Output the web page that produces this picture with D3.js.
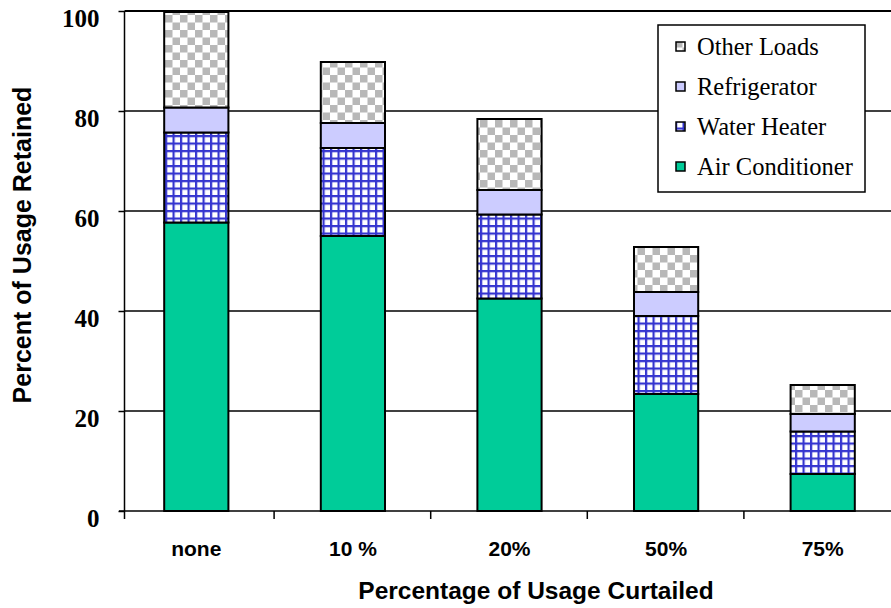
<!DOCTYPE html>
<html>
<head>
<meta charset="utf-8">
<script src="https://cdn.jsdelivr.net/npm/d3@7"></script>
<style>
  html, body { margin: 0; padding: 0; background: #fff; }
  svg { display: block; }
</style>
</head>
<body>
<svg id="chart" width="891" height="608"></svg>
<script>
// Curtailment scenarios and the retained usage of each end use (percent)
const categories = ["none", "10 %", "20%", "50%", "75%"];
const airConditioner = [57.7, 55.0, 42.5, 23.4, 7.4];
const waterHeater    = [18.0, 17.6, 16.8, 15.6, 8.5];
const refrigerator   = [5.0, 5.0, 4.9, 4.8, 3.5];
const otherLoads     = [19.1, 12.2, 14.2, 9.0, 5.8];
const seriesNames = ["Air Conditioner", "Water Heater", "Refrigerator", "Other Loads"];
const yTicks = [0, 20, 40, 60, 80, 100];

const svg = d3.select("#chart");
const defs = svg.append("defs");

// Grey checkerboard for "Other Loads"
const chk = defs.append("pattern").attr("id", "pat-other")
  .attr("patternUnits", "userSpaceOnUse").attr("width", 15).attr("height", 15);
chk.append("rect").attr("width", 15).attr("height", 15).attr("fill", "#ffffff");
chk.append("rect").attr("width", 7.5).attr("height", 7.5).attr("fill", "#b8b8b8");
chk.append("rect").attr("x", 7.5).attr("y", 7.5).attr("width", 7.5).attr("height", 7.5).attr("fill", "#b8b8b8");

// Blue grid for "Water Heater"
const grid = defs.append("pattern").attr("id", "pat-water")
  .attr("patternUnits", "userSpaceOnUse").attr("width", 7.5).attr("height", 7.5);
grid.append("rect").attr("width", 7.5).attr("height", 7.5).attr("fill", "#ffffff");
grid.append("rect").attr("width", 2.2).attr("height", 7.5).attr("fill", "#3535cf");
grid.append("rect").attr("width", 7.5).attr("height", 2.2).attr("fill", "#3535cf");

const fills = {
  "Air Conditioner": "#00cc99",
  "Water Heater": "url(#pat-water)",
  "Refrigerator": "#ccccff",
  "Other Loads": "url(#pat-other)"
};

const axisX = 124.5;
const x = d3.scaleBand().domain(categories).range([118, 901])
  .paddingInner(0.59).paddingOuter(0.295);
const y = d3.scaleLinear().domain([0, 100]).range([511, 11]);

const rows = categories.map((c, i) => ({
  category: c,
  "Air Conditioner": airConditioner[i],
  "Water Heater": waterHeater[i],
  "Refrigerator": refrigerator[i],
  "Other Loads": otherLoads[i]
}));
const stacked = d3.stack().keys(seriesNames)(rows);

// Horizontal gridlines
svg.append("g").selectAll("line").data(yTicks.filter(t => t > 0)).join("line")
  .attr("x1", axisX).attr("x2", 891)
  .attr("y1", d => y(d)).attr("y2", d => y(d))
  .attr("stroke", "#000").attr("stroke-width", d => d === 100 ? 2 : 1.3);

// Stacked bars
svg.append("g").selectAll("g").data(stacked).join("g")
  .attr("fill", d => fills[d.key])
  .selectAll("rect").data(d => d).join("rect")
  .attr("x", d => x(d.data.category))
  .attr("y", d => y(d[1]))
  .attr("width", x.bandwidth())
  .attr("height", d => y(d[0]) - y(d[1]))
  .attr("stroke", "#000").attr("stroke-width", 2);

// Y axis
const yAxis = d3.axisLeft(y).tickValues(yTicks).tickSize(6).tickPadding(19)
  .tickFormat(d3.format("d"));
const yg = svg.append("g").attr("transform", `translate(${axisX},0)`).call(yAxis);
yg.select(".domain").remove();
yg.append("line").attr("x1", 0).attr("x2", 0).attr("y1", y(100)).attr("y2", 519)
  .attr("stroke", "#000").attr("stroke-width", 1.5);
yg.selectAll(".tick line").attr("stroke", "#000").attr("stroke-width", 1.5);
yg.selectAll(".tick text")
  .attr("font-family", "'Liberation Serif', 'Times New Roman', serif")
  .attr("font-weight", "bold").attr("font-size", 25).attr("fill", "#000")
  .attr("dy", "0.6em");

// X axis baseline, category boundary ticks and labels
svg.append("line").attr("x1", 119).attr("x2", 891).attr("y1", y(0)).attr("y2", y(0))
  .attr("stroke", "#000").attr("stroke-width", 1.5);
const bounds = categories.slice(1).map(c => x(c) - x.step() * x.paddingInner() / 2 - 0.5);
svg.append("g").selectAll("line").data(bounds).join("line")
  .attr("x1", d => d).attr("x2", d => d).attr("y1", y(0)).attr("y2", 519)
  .attr("stroke", "#000").attr("stroke-width", 1.5);
svg.append("g").selectAll("text").data(categories).join("text")
  .attr("x", d => x(d) + x.bandwidth() / 2).attr("y", 556)
  .attr("text-anchor", "middle")
  .attr("font-family", "'Liberation Sans', Arial, sans-serif")
  .attr("font-weight", "bold").attr("font-size", 21).attr("fill", "#000")
  .text(d => d);

// Axis titles
svg.append("text").attr("x", 536).attr("y", 599).attr("text-anchor", "middle")
  .attr("font-family", "'Liberation Sans', Arial, sans-serif")
  .attr("font-weight", "bold").attr("font-size", 24.5)
  .text("Percentage of Usage Curtailed");
svg.append("text").attr("transform", "translate(31,245) rotate(-90)")
  .attr("text-anchor", "middle")
  .attr("font-family", "'Liberation Sans', Arial, sans-serif")
  .attr("font-weight", "bold").attr("font-size", 25)
  .text("Percent of Usage Retained");

// Legend
const legend = svg.append("g");
legend.append("rect").attr("x", 658).attr("y", 25).attr("width", 207).attr("height", 167)
  .attr("fill", "#fff").attr("stroke", "#000").attr("stroke-width", 1.5);
const legendOrder = seriesNames.slice().reverse();
const li = legend.selectAll("g").data(legendOrder).join("g")
  .attr("transform", (d, i) => `translate(0,${55 + i * 40})`);
li.append("rect").attr("x", 676).attr("y", -13).attr("width", 9).attr("height", 9)
  .attr("fill", d => fills[d]).attr("stroke", "#000").attr("stroke-width", 1.5);
li.append("text").attr("x", 697).attr("y", 0)
  .attr("font-family", "'Liberation Serif', 'Times New Roman', serif")
  .attr("font-size", 24.5).attr("fill", "#000")
  .text(d => d);
</script>
</body>
</html>
